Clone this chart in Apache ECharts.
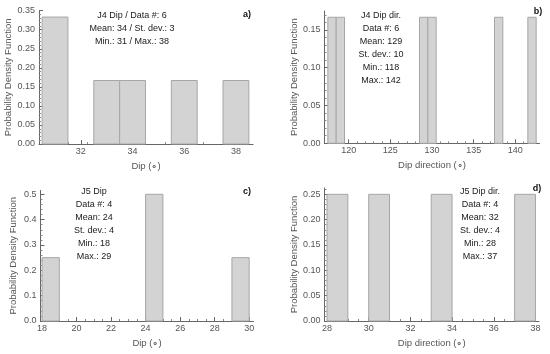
<!DOCTYPE html>
<html><head><meta charset="utf-8">
<script src="https://cdn.jsdelivr.net/npm/echarts@6/dist/echarts.min.js"></script>
<style>html,body{margin:0;padding:0;background:#fff}#c{width:550px;height:354px}</style>
</head><body><div id="c"></div>
<script>
const binWidth = 1;
const aBinStart = [30.5, 32.5, 33.5, 35.5, 37.5];
const aDensity = [0.3333, 0.1667, 0.1667, 0.1667, 0.1667];
const bBinStart = [117.5, 118.5, 128.5, 129.5, 137.5, 141.5];
const bDensity = [0.1667, 0.1667, 0.1667, 0.1667, 0.1667, 0.1667];
const cBinStart = [18, 24, 29];
const cDensity = [0.25, 0.5, 0.25];
const dBinStart = [28, 30, 33, 37];
const dDensity = [0.25, 0.25, 0.25, 0.25];

const aXTicks = [32, 34, 36, 38];
const bXTicks = [120, 125, 130, 135, 140];
const cXTicks = [18, 20, 22, 24, 26, 28, 30];
const dXTicks = [28, 30, 32, 34, 36, 38];
const aYTicks = [0, 0.05, 0.10, 0.15, 0.20, 0.25, 0.30, 0.35];
const bYTicks = [0, 0.05, 0.10, 0.15];
const cYTicks = [0, 0.1, 0.2, 0.3, 0.4, 0.5];
const dYTicks = [0, 0.05, 0.10, 0.15, 0.20, 0.25];

const aText = ['J4 Dip / Data #: 6', 'Mean: 34 / St. dev.: 3', 'Min.: 31 / Max.: 38'];
const bText = ['J4 Dip dir.', 'Data #: 6', 'Mean: 129', 'St. dev.: 10', 'Min.: 118', 'Max.: 142'];
const cText = ['J5 Dip', 'Data #: 4', 'Mean: 24', 'St. dev.: 4', 'Min.: 18', 'Max.: 29'];
const dText = ['J5 Dip dir.', 'Data #: 4', 'Mean: 32', 'St. dev.: 4', 'Min.: 28', 'Max.: 37'];

const FONT = "'Liberation Sans', Arial, sans-serif";
const AXIS_COL = '#666';
const LABEL_COL = '#555';

const panels = [
  {grid:{left:39, right:297, top:10.7, bottom:210}, xmin:30.38, xmax:38.66, ymax:0.35, xt:aXTicks, yt:aYTicks, xs:4, ys:5, dec:2, xname:'Dip (\u2218)', bins:aBinStart, dens:aDensity, ng:23},
  {grid:{left:324.5, right:10.5, top:11, bottom:210.7}, xmin:117.1, xmax:142.9, ymax:0.175, xt:bXTicks, yt:bYTicks, xs:5, ys:5, dec:2, xname:'Dip direction (\u2218)', bins:bBinStart, dens:bDensity, ng:21},
  {grid:{left:40.5, right:296.5, top:190.5, bottom:33}, xmin:17.91, xmax:30.25, ymax:0.515, xt:cXTicks, yt:cYTicks, xs:4, ys:5, dec:1, xname:'Dip (\u2218)', bins:cBinStart, dens:cDensity, ng:22},
  {grid:{left:324.5, right:11, top:188, bottom:33}, xmin:27.88, xmax:38.17, ymax:0.2625, xt:dXTicks, yt:dYTicks, xs:4, ys:5, dec:2, xname:'Dip direction (\u2218)', bins:dBinStart, dens:dDensity, ng:22}
];

const grids = [], xAxes = [], yAxes = [], series = [];
panels.forEach((p, i) => {
  grids.push(p.grid);
  xAxes.push({
    type:'value', gridIndex:i, min:p.xmin, max:p.xmax,
    splitNumber: p.xt.length - 1,
    name:p.xname, nameLocation:'middle', nameGap:17,
    nameTextStyle:{color:LABEL_COL, fontFamily:FONT, fontSize:9.5},
    axisLine:{show:true, lineStyle:{color:AXIS_COL, width:1}},
    axisTick:{show:true, inside:true, length:4, customValues:p.xt, lineStyle:{color:AXIS_COL}},
    minorTick:{show:true, splitNumber:p.xs, length:2, lineStyle:{color:'#888'}},
    axisLabel:{customValues:p.xt, color:LABEL_COL, fontFamily:FONT, fontSize:9, margin:3,
      formatter: v => String(Math.round(v))},
    splitLine:{show:false}
  });
  yAxes.push({
    type:'value', gridIndex:i, min:0, max:p.ymax,
    interval: p.yt[1] - p.yt[0],
    name:'Probability Density Function', nameLocation:'middle', nameGap:p.ng,
    nameTextStyle:{color:LABEL_COL, fontFamily:FONT, fontSize:9.5},
    axisLine:{show:true, lineStyle:{color:AXIS_COL, width:1}},
    axisTick:{show:true, inside:true, length:4, customValues:p.yt, lineStyle:{color:AXIS_COL}},
    minorTick:{show:true, splitNumber:p.ys, length:2, lineStyle:{color:'#888'}},
    axisLabel:{customValues:p.yt, color:LABEL_COL, fontFamily:FONT, fontSize:9, margin:4,
      formatter: v => v.toFixed(p.dec)},
    splitLine:{show:false}
  });
  series.push({
    type:'custom', xAxisIndex:i, yAxisIndex:i,
    data: p.bins.map((s, k) => [s, s + binWidth, p.dens[k]]),
    encode:{x:[0,1], y:2},
    renderItem: (params, api) => {
      const p0 = api.coord([api.value(0), 0]);
      const p1 = api.coord([api.value(1), api.value(2)]);
      return {type:'rect', shape:{x:p0[0], y:p1[1], width:p1[0]-p0[0], height:p0[1]-p1[1]},
        style:{fill:'#d3d3d3', stroke:'#a6a6a6', lineWidth:1}};
    }
  });
});

function txt(lines, x, y) {
  return {type:'text', x:x, y:y, silent:true, style:{text:lines.join('\n'), fill:'#1a1a1a',
    font:'9px ' + FONT, textAlign:'center', textVerticalAlign:'middle', lineHeight:13}};
}
function lab(t, x, y) {
  return {type:'text', x:x, y:y, silent:true, style:{text:t, fill:'#111',
    font:'bold 9px ' + FONT, textAlign:'center', textVerticalAlign:'middle'}};
}

const chart = echarts.init(document.getElementById('c'), null, {renderer:'canvas'});
chart.setOption({
  animation:false,
  backgroundColor:'#fff',
  grid:grids, xAxis:xAxes, yAxis:yAxes, series:series,
  graphic:[
    txt(aText, 132, 29), txt(bText, 381, 48), txt(cText, 94, 224.5), txt(dText, 480, 224),
    lab('a)', 247, 15), lab('b)', 538, 12), lab('c)', 247, 192), lab('d)', 537, 189)
  ]
});
</script></body></html>
